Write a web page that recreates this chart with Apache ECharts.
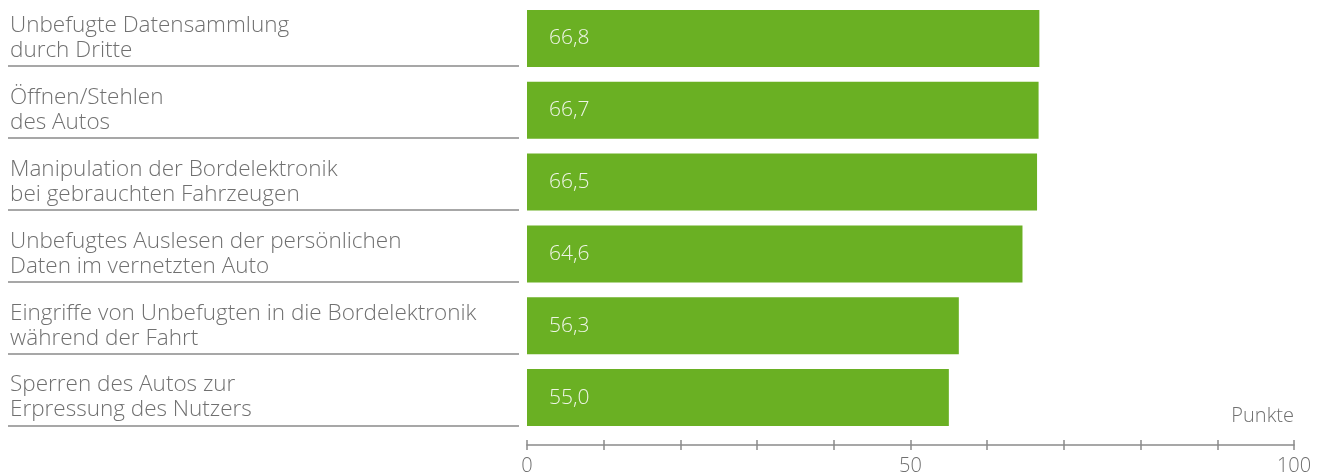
<!DOCTYPE html>
<html>
<head>
<meta charset="utf-8">
<script src="https://cdn.jsdelivr.net/npm/echarts@6/dist/echarts.min.js"></script>
<style>html,body{margin:0;padding:0;background:#fff}#c{width:1328px;height:476px}</style>
</head>
<body>
<div id="c"></div>
<script>
const categories = [
  "Unbefugte Datensammlung\ndurch Dritte",
  "Öffnen/Stehlen\ndes Autos",
  "Manipulation der Bordelektronik\nbei gebrauchten Fahrzeugen",
  "Unbefugtes Auslesen der persönlichen\nDaten im vernetzten Auto",
  "Eingriffe von Unbefugten in die Bordelektronik\nwährend der Fahrt",
  "Sperren des Autos zur\nErpressung des Nutzers"
];
const values = [66.8, 66.7, 66.5, 64.6, 56.3, 55.0];
const tickLabels = { 0: "0", 50: "50", 100: "100" };
const axisName = "Punkte";

const FONT = "'Open Sans', 'Noto Sans', sans-serif";
const GREY = "#707070";
const LINE = "#8a8a8a";
const chart = echarts.init(document.getElementById('c'), null, {renderer: 'canvas'});
chart.setOption({
  animation: false,
  grid: [
    {left: 527, right: 34, top: 2.5, height: 432, containLabel: false},
    {left: 8, width: 511, top: 66, height: 360, containLabel: false}
  ],
  xAxis: [
    {
      type: 'value', gridIndex: 0, min: 0, max: 100, interval: 10,
      position: 'bottom', offset: 11.5,
      axisLine: {show: true, lineStyle: {color: LINE, width: 1.5}},
      axisTick: {show: true, inside: true, length: 5, lineStyle: {color: LINE, width: 1.5}},
      splitLine: {show: false},
      axisLabel: {
        show: true, margin: 11, color: GREY, fontFamily: FONT, fontSize: 20, fontWeight: 300,
        formatter: v => tickLabels[v] !== undefined ? tickLabels[v] : ''
      },
      name: axisName, nameLocation: 'end', nameGap: 0,
      nameTextStyle: {color: GREY, fontFamily: FONT, fontSize: 20, fontWeight: 300, align: 'right', verticalAlign: 'bottom', padding: [0, 0, 19, 0]}
    },
    {
      type: 'value', gridIndex: 0, min: 0, max: 100, interval: 10,
      position: 'bottom', offset: 11.5,
      axisLine: {show: false},
      axisTick: {show: true, inside: false, length: 5, lineStyle: {color: LINE, width: 1.5}},
      splitLine: {show: false},
      axisLabel: {show: false}
    },
    {
      type: 'value', gridIndex: 1, min: 0, max: 100, show: false
    }
  ],
  yAxis: [
    {
      type: 'category', gridIndex: 0, data: categories, inverse: true,
      axisLine: {show: false}, axisTick: {show: false}, splitLine: {show: false},
      axisLabel: {
        show: true, align: 'left', margin: 517, color: GREY, fontFamily: FONT,
        fontSize: 22.5, fontWeight: 300, lineHeight: 25, padding: [4, 0, 0, 0]
      }
    },
    {
      type: 'category', gridIndex: 1, data: categories.slice(1), inverse: true,
      axisLine: {show: false}, axisTick: {show: false}, axisLabel: {show: false},
      splitLine: {show: true, lineStyle: {color: LINE, width: 1.5}}
    }
  ],
  series: [
    {
      type: 'bar', xAxisIndex: 0, yAxisIndex: 0, data: values, barWidth: 57,
      itemStyle: {color: '#6AB023'},
      label: {
        show: true, position: 'insideLeft', distance: 22,
        color: '#eef5e6', fontFamily: FONT, fontSize: 21, fontWeight: 300,
        formatter: p => p.value.toFixed(1).replace('.', ',')
      }
    }
  ]
});
</script>
</body>
</html>
